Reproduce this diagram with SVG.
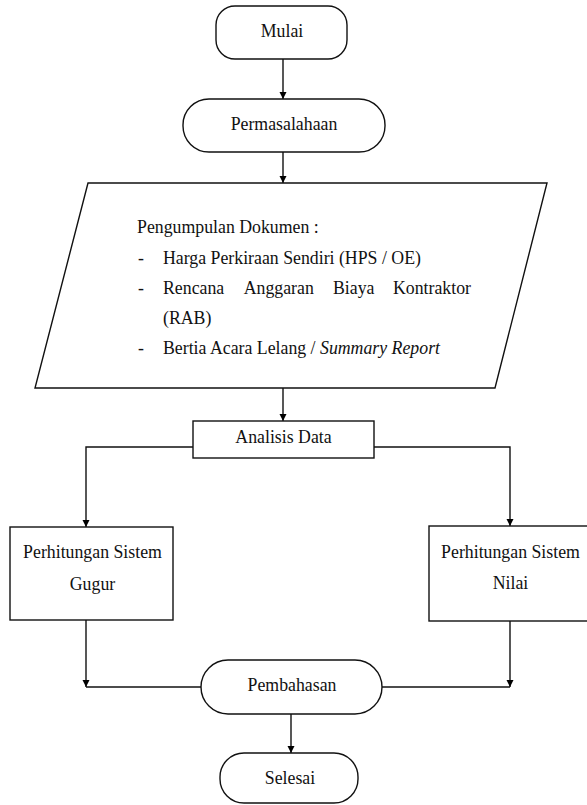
<svg xmlns="http://www.w3.org/2000/svg" width="587" height="805" viewBox="0 0 587 805">
<defs>
<marker id="arr" viewBox="0 0 10 10" refX="10" refY="5" markerWidth="7" markerHeight="8" markerUnits="userSpaceOnUse" orient="auto">
<path d="M0,0 L10,5 L0,10 z" fill="#000"/>
</marker>
<style>
.shape{fill:#fff;stroke:#111;stroke-width:1.4}
.t{font-family:"Liberation Serif","Times New Roman",serif;font-size:17.8px;fill:#111}
.c{text-anchor:middle}
.ln{fill:none;stroke:#111;stroke-width:1.4}
.a{marker-end:url(#arr)}
</style>
</defs>
<rect width="587" height="805" fill="#fff"/>
<g id="connectors">
<line class="ln a" x1="283" y1="59" x2="283" y2="99"/>
<line class="ln a" x1="283" y1="152" x2="283" y2="183"/>
<line class="ln a" x1="283" y1="388" x2="283" y2="421"/>
<polyline class="ln a" points="193,447 86,447 86,527"/>
<polyline class="ln a" points="374,447 510,447 510,526"/>
<line class="ln a" x1="86" y1="620" x2="86" y2="687"/>
<line class="ln" x1="86" y1="687" x2="201" y2="687"/>
<line class="ln a" x1="510" y1="621" x2="510" y2="687"/>
<line class="ln" x1="382" y1="687" x2="510" y2="687"/>
<line class="ln a" x1="291" y1="714" x2="291" y2="753"/>
</g>
<g id="mulai">
<rect class="shape" x="216" y="6" width="131" height="53" rx="19" ry="19"/>
<text class="t c" x="282" y="37">Mulai</text>
</g>
<g id="permasalahaan">
<rect class="shape" x="183" y="99" width="202" height="53" rx="26" ry="26"/>
<text class="t c" x="284" y="130">Permasalahaan</text>
</g>
<g id="pengumpulan">
<polygon class="shape" points="88,183 547,183 495,388 35,388"/>
<text class="t" x="137" y="233">Pengumpulan Dokumen :</text>
<text class="t" x="138" y="263.5">-</text>
<text class="t" x="163" y="263.5">Harga Perkiraan Sendiri (HPS / OE)</text>
<text class="t" x="138" y="294">-</text>
<text class="t" x="163" y="294">Rencana</text>
<text class="t" x="243.7" y="294">Anggaran</text>
<text class="t" x="333" y="294">Biaya</text>
<text class="t" x="471" y="294" text-anchor="end">Kontraktor</text>
<text class="t" x="163" y="324">(RAB)</text>
<text class="t" x="138" y="354">-</text>
<text class="t" x="163" y="354">Bertia Acara Lelang / <tspan font-style="italic">Summary Report</tspan></text>
</g>
<g id="analisis">
<rect class="shape" x="193" y="421" width="181" height="37"/>
<text class="t c" x="283.5" y="443">Analisis Data</text>
</g>
<g id="gugur">
<rect class="shape" x="10" y="527" width="163" height="93"/>
<text class="t c" x="92.5" y="558">Perhitungan Sistem</text>
<text class="t c" x="92.5" y="590">Gugur</text>
</g>
<g id="nilai">
<rect class="shape" x="429" y="526" width="162" height="95"/>
<text class="t c" x="510.5" y="558">Perhitungan Sistem</text>
<text class="t c" x="510.5" y="589">Nilai</text>
</g>
<g id="pembahasan">
<rect class="shape" x="201" y="660" width="181" height="54" rx="27" ry="27"/>
<text class="t c" x="292" y="691">Pembahasan</text>
</g>
<g id="selesai">
<rect class="shape" x="220" y="753" width="138" height="50" rx="24" ry="24"/>
<text class="t c" x="290" y="784">Selesai</text>
</g>
</svg>
